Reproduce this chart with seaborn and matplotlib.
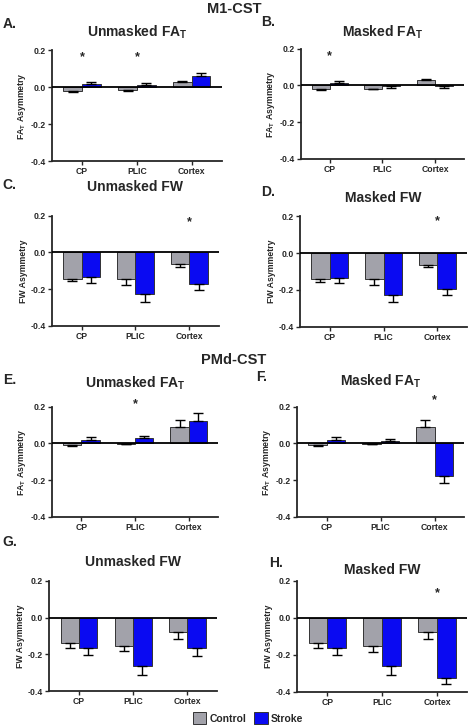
import numpy as np
import pandas as pd
import seaborn as sns
import matplotlib.pyplot as plt

# data (bar heights and SEM, one-sided error bars)
regions = ["CP", "PLIC", "Cortex"]
groups = ["Control", "Stroke"]

a_ctrl = [-0.022, -0.016, 0.029]
a_ctrl_err = [0.004, 0.003, 0.006]
a_strk = [0.017, 0.012, 0.058]
a_strk_err = [0.010, 0.010, 0.020]

b_ctrl = [-0.022, -0.018, 0.032]
b_ctrl_err = [0.005, 0.004, 0.005]
b_strk = [0.013, -0.003, -0.004]
b_strk_err = [0.010, 0.010, 0.012]

c_ctrl = [-0.142, -0.144, -0.065]
c_ctrl_err = [0.015, 0.031, 0.013]
c_strk = [-0.133, -0.225, -0.171]
c_strk_err = [0.031, 0.044, 0.033]

d_ctrl = [-0.140, -0.140, -0.065]
d_ctrl_err = [0.016, 0.033, 0.011]
d_strk = [-0.133, -0.225, -0.193]
d_strk_err = [0.027, 0.039, 0.034]

e_ctrl = [-0.011, -0.004, 0.089]
e_ctrl_err = [0.003, 0.002, 0.038]
e_strk = [0.020, 0.027, 0.124]
e_strk_err = [0.013, 0.013, 0.042]

f_ctrl = [-0.010, -0.004, 0.090]
f_ctrl_err = [0.003, 0.002, 0.038]
f_strk = [0.020, 0.013, -0.178]
f_strk_err = [0.013, 0.013, 0.035]

g_ctrl = [-0.138, -0.153, -0.078]
g_ctrl_err = [0.027, 0.027, 0.038]
g_strk = [-0.165, -0.262, -0.165]
g_strk_err = [0.039, 0.049, 0.046]

h_ctrl = [-0.138, -0.153, -0.075]
h_ctrl_err = [0.027, 0.029, 0.040]
h_strk = [-0.165, -0.262, -0.324]
h_strk_err = [0.037, 0.049, 0.036]

# significance stars: (region index, height)
a_stars = [(0, 0.16), (1, 0.16)]
b_stars = [(0, 0.157)]
c_stars = [(2, 0.165)]
d_stars = [(2, 0.172)]
e_stars = [(1, 0.215)]
f_stars = [(2, 0.235)]
g_stars = []
h_stars = [(2, 0.131)]

fa_label = r"F$A_T$ Asymmetry"
fw_label = "FW Asymmetry"

panels = [
    ("A.", r"Unmasked F$A_T$", fa_label, a_ctrl, a_ctrl_err, a_strk, a_strk_err, a_stars),
    ("B.", r"Masked F$A_T$", fa_label, b_ctrl, b_ctrl_err, b_strk, b_strk_err, b_stars),
    ("C.", "Unmasked FW", fw_label, c_ctrl, c_ctrl_err, c_strk, c_strk_err, c_stars),
    ("D.", "Masked FW", fw_label, d_ctrl, d_ctrl_err, d_strk, d_strk_err, d_stars),
    ("E.", r"Unmasked F$A_T$", fa_label, e_ctrl, e_ctrl_err, e_strk, e_strk_err, e_stars),
    ("F.", r"Masked F$A_T$", fa_label, f_ctrl, f_ctrl_err, f_strk, f_strk_err, f_stars),
    ("G.", "Unmasked FW", fw_label, g_ctrl, g_ctrl_err, g_strk, g_strk_err, g_stars),
    ("H.", "Masked FW", fw_label, h_ctrl, h_ctrl_err, h_strk, h_strk_err, h_stars),
]

# axes boxes in figure fraction
boxes = [
    [0.111, 0.778, 0.363, 0.153],
    [0.643, 0.781, 0.348, 0.152],
    [0.111, 0.551, 0.357, 0.152],
    [0.641, 0.550, 0.357, 0.152],
    [0.111, 0.288, 0.355, 0.152],
    [0.635, 0.288, 0.357, 0.152],
    [0.105, 0.048, 0.359, 0.152],
    [0.635, 0.047, 0.363, 0.153],
]
title_pads = [10, 9, 18, 10, 14, 15, 11, 5]
# panel letter positions (figure fraction)
letter_pos = [(0.006, 0.967), (0.557, 0.970), (0.006, 0.745), (0.557, 0.735),
              (0.006, 0.477), (0.547, 0.481), (0.006, 0.253), (0.575, 0.224)]

palette = {"Control": "#a2a2aa", "Stroke": "#0a0af2"}

sns.set_style("ticks")
plt.rcParams["font.family"] = ["Liberation Sans", "DejaVu Sans"]
plt.rcParams["font.weight"] = "bold"
plt.rcParams["axes.unicode_minus"] = False
plt.rcParams["mathtext.fontset"] = "custom"
plt.rcParams["mathtext.rm"] = "Liberation Sans:bold"
plt.rcParams["mathtext.it"] = "Liberation Sans:bold"
plt.rcParams["mathtext.bf"] = "Liberation Sans:bold"
plt.rcParams["mathtext.default"] = "rm"

fig = plt.figure(figsize=(4.68, 7.26), dpi=100)

handles, labels = None, None
for i, (letter, title, ylab, cm, ce, sm, se, stars) in enumerate(panels):
    ax = fig.add_axes(boxes[i])
    df = pd.DataFrame({
        "region": regions * 2,
        "group": ["Control"] * 3 + ["Stroke"] * 3,
        "value": list(cm) + list(sm),
    })
    sns.barplot(data=df, x="region", y="value", hue="group", order=regions,
                hue_order=groups, palette=palette, width=0.68, errorbar=None,
                edgecolor="#333333", linewidth=0.7, saturation=1, ax=ax,
                legend=(i == 0))
    if i == 0:
        handles, labels = ax.get_legend_handles_labels()
        ax.get_legend().remove()

    # one-sided error bars, pointing away from zero
    for cont, means, errs in zip(ax.containers, [cm, sm], [ce, se]):
        xs = [b.get_x() + b.get_width() / 2 for b in cont]
        means = np.array(means)
        errs = np.array(errs)
        lower = np.where(means < 0, errs, 0)
        upper = np.where(means >= 0, errs, 0)
        ax.errorbar(xs, means, yerr=[lower, upper], fmt="none", ecolor="black",
                    elinewidth=1.0, capsize=3.5, capthick=1.0, zorder=3)

    ax.axhline(0, color="black", lw=1.3, zorder=4)
    for idx, y in stars:
        ax.text(idx, y, "*", ha="center", va="center", fontsize=9,
                fontweight="bold", clip_on=False)

    ax.set_ylim(-0.4, 0.2)
    ax.set_xlim(-0.55, 2.55)
    ax.set_yticks([0.2, 0.0, -0.2, -0.4])
    ax.set_yticklabels(["0.2", "0.0", "-0.2", "-0.4"])
    ax.set_xlabel("")
    ax.set_ylabel(ylab, fontsize=6.3, fontweight="bold", labelpad=2)
    ax.tick_params(axis="both", labelsize=6.2, width=1.0, length=3, pad=1.5)
    for lab in ax.get_xticklabels() + ax.get_yticklabels():
        lab.set_fontweight("bold")
    sns.despine(ax=ax)
    ax.spines["left"].set_linewidth(1.3)
    ax.spines["bottom"].set_linewidth(1.3)
    ax.set_title(title, fontsize=10, fontweight="bold", pad=title_pads[i])
    fig.text(letter_pos[i][0], letter_pos[i][1], letter, fontsize=10,
             fontweight="bold", va="center")

fig.text(0.5, 0.988, "M1-CST", ha="center", va="center", fontsize=10.5,
         fontweight="bold")
fig.text(0.5, 0.504, "PMd-CST", ha="center", va="center", fontsize=10.5,
         fontweight="bold")

fig.legend(handles, labels, loc="center", bbox_to_anchor=(0.53, 0.011),
           ncol=2, frameon=False, handlelength=1.3,
           handleheight=1.3, handletextpad=0.3, columnspacing=0.8,
           borderaxespad=0, prop={"weight": "bold", "size": 7.5})

fig.savefig("out.png", dpi=100)
